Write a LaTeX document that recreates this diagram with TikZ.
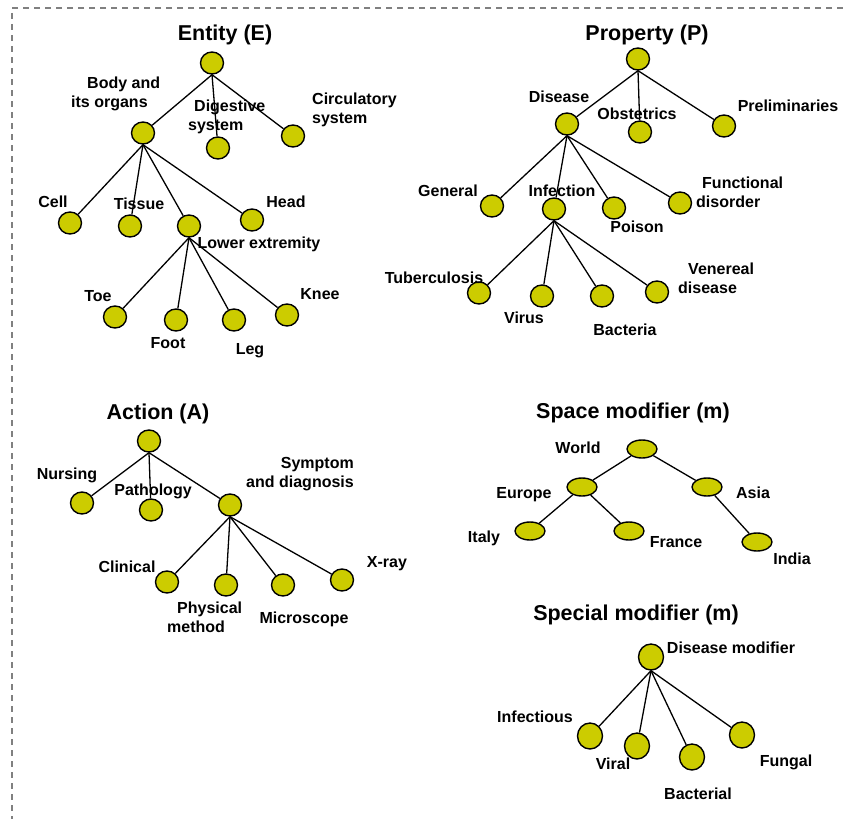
\documentclass[tikz,border=0pt]{standalone}
\usepackage{fontspec}
\setmainfont{Liberation Sans}
\usetikzlibrary{shapes.geometric}
\definecolor{ballfill}{RGB}{204,204,0}

\begin{document}
\begin{tikzpicture}[x=1pt,y=-1pt,
    ball/.style={ellipse,draw,line width=1.4pt,fill=ballfill,inner sep=0pt,minimum width=23pt,minimum height=22pt},
    ovalball/.style={ball,minimum width=30pt,minimum height=18pt},
    bigball/.style={ball,minimum width=25pt,minimum height=26pt},
    lbl/.style={font=\fontsize{16}{19}\selectfont\bfseries,inner sep=0pt,text height=11.5pt,text depth=0pt},
    lbltwo/.style={font=\fontsize{16}{19}\selectfont\bfseries,inner sep=0pt},
    ttl/.style={font=\fontsize{21.5}{25}\selectfont\bfseries,inner sep=0pt,text height=15.5pt,text depth=0pt},
    link/.style={line width=1.3pt}]
    \useasboundingbox (0,0) rectangle (843,819);
    \draw[gray,line width=1.2pt,dash pattern=on 6pt off 5pt] (843,8) -- (12,8) -- (12,819);

    % titles
    \node[ttl] (tE) at (225,33) {Entity (E)};
    \node[ttl] (tP) at (647,33) {Property (P)};
    \node[ttl] (tA) at (158,412) {Action (A)};
    \node[ttl] (tS) at (633,411) {Space modifier (m)};
    \node[ttl] (tM) at (636,613) {Special modifier (m)};

    % nodes
    \foreach \n/\x/\y in {E/212/63, body/143/133, dig/218/148, circ/293/136, cell/70/223, tis/130/226,
        low/189/226, head/252/220, toe/115/317, foot/176/320, leg/234/320, knee/287/315,
        P/638/59, dis/567/124, obs/640/132, pre/724/126, gen/492/206, inf/554/209, poi/614/208,
        fun/680/203, tub/479/293, vir/542/296, bac/602/296, ven/657/292,
        A/149/441, nur/82/503, pat/151/510, sym/230/505, cli/167/582, phy/226/585, mic/283/585, xra/342/580}
        \node[ball] (\n) at (\x,\y) {};
    \foreach \n/\x/\y in {wor/642/449, eur/582/487, asi/707/487, ita/530/531, fra/629/531, ind/757/542}
        \node[ovalball] (\n) at (\x,\y) {};
    \foreach \n/\x/\y in {dm/651/657, ifc/590/736, vrl/637/746, bct/692/757, fng/742/735}
        \node[bigball] (\n) at (\x,\y) {};

    % connectors
    \foreach \p/\ch in {E/body, E/dig, E/circ, body/cell, body/tis, body/low, body/head,
        low/toe, low/foot, low/leg, low/knee,
        P/dis, P/obs, P/pre, dis/gen, dis/inf, dis/poi, dis/fun, inf/tub, inf/vir, inf/bac, inf/ven,
        A/nur, A/pat, A/sym, sym/cli, sym/phy, sym/mic, sym/xra,
        dm/ifc, dm/vrl, dm/bct, dm/fng}
        \draw[link] (\p.south) -- (\ch);
    \foreach \p/\ch in {wor/eur, wor/asi, eur/ita, eur/fra, asi/ind}
        \draw[link] (\p) -- (\ch);

    % labels
    \foreach \n/\x/\y/\txt in {tcell/53/202/Cell, ttis/139/204/Tissue, thead/286/202/Head,
        tlow/259/243/Lower extremity, ttoe/98/296/Toe, tfoot/168/343/Foot, tleg/250/349/Leg, tknee/320/294/Knee,
        tdis/559/97/Disease, tobs/637/114/Obstetrics, tpre/788/106/Preliminaries, tgen/448/191/General,
        tinf/562/191/Infection, tpoi/637/227/Poison, ttub/434/278/Tuberculosis, tvir/524/318/Virus,
        tbac/625/330/Bacteria,
        tnur/67/474/Nursing, tpat/153/490/Pathology, tcli/127/567/Clinical, tmic/304/618/Microscope,
        txra/387/562/X-ray,
        twor/578/448/World, teur/524/493/Europe, tasi/753/493/Asia, tita/484/537/Italy,
        tfra/676/542/France, tind/792/559/India,
        tdm/731/648/Disease modifier, tifc/535/717/Infectious, tvrl/613/764/Viral,
        tbct/698/794/Bacterial, tfng/786/761/Fungal}
        \node[lbl] (\n) at (\x,\y) {\txt};
    \node[lbltwo,anchor=west,align=left] (tbody) at (71,94) {\hspace*{16pt}Body and\\its organs};
    \node[lbltwo,anchor=west,align=left] (tdig) at (188,116.5) {\hspace*{6pt}Digestive\\system};
    \node[lbltwo,anchor=west,align=left] (tcirc) at (312,110) {Circulatory\\system};
    \node[lbltwo,anchor=west,align=left] (tfun) at (696,192.5) {\hspace*{6pt}Functional\\disorder};
    \node[lbltwo,anchor=west,align=left] (tven) at (678,278.5) {\hspace*{10pt}Venereal\\disease};
    \node[lbltwo,anchor=east,align=right] (tsym) at (354,474) {Symptom\\and diagnosis};
    \node[lbltwo,anchor=west,align=left] (tphy) at (167,617) {\hspace*{10pt}Physical\\method};
\end{tikzpicture}
\end{document}
